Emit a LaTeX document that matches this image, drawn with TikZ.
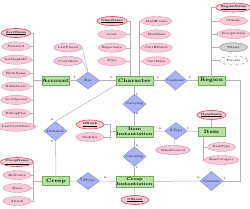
\documentclass[tikz,border=0pt]{standalone}
\usepackage{tikz}
\usetikzlibrary{positioning, shapes.geometric}

\definecolor{entfill}{HTML}{B6E2A1}
\definecolor{entline}{HTML}{6FAE57}
\definecolor{relfill}{HTML}{A9B2F2}
\definecolor{relline}{HTML}{7C87D6}
\definecolor{attfill}{HTML}{F8CAD7}
\definecolor{attline}{HTML}{E593A9}
\definecolor{keyline}{HTML}{E0404E}
\definecolor{ratline}{HTML}{C27AD6}
\definecolor{linec}{HTML}{B4B4B4}

\begin{document}
\begin{tikzpicture}[x=1pt, y=-1pt,
    entity/.style={rectangle, draw=entline, fill=entfill, minimum width=27pt, minimum height=9pt, inner sep=0pt, font=\fontsize{5}{5}\selectfont\bfseries},
    bigentity/.style={entity, minimum width=37pt},
    twoline/.style={entity, minimum width=37pt, minimum height=11.5pt, align=center, font=\fontsize{4.2}{4.3}\selectfont\bfseries},
    rel/.style={diamond, draw=relline, fill=relfill, minimum width=23pt, minimum height=17pt, inner sep=0pt, font=\fontsize{3.2}{3.2}\selectfont},
    attr/.style={ellipse, draw=attline, fill=attfill, minimum width=28pt, minimum height=9pt, inner sep=0pt, font=\fontsize{3}{3}\selectfont},
    keyattr/.style={attr, draw=keyline, line width=0.55pt, font=\fontsize{3}{3}\selectfont\bfseries},
    relattr/.style={attr, draw=ratline},
    multi/.style={attr, draw=gray, fill=gray!35},
    derived/.style={attr, draw=gray, fill=white, dashed},
    link/.style={draw=linec, line width=0.5pt},
    card/.style={inner sep=0pt, font=\fontsize{3.2}{3.2}\selectfont}
  ]
  \useasboundingbox (0,0) rectangle (250,209);

  % entities
  \node[entity] (acc) at (55.5,80.5) {Account};
  \node[bigentity] (chr) at (134.5,80.5) {Character};
  \node[entity] (reg) at (211.5,80.5) {Region};
  \node[twoline] (iinst) at (134.5,131.5) {Item\\Instantiation};
  \node[entity] (item) at (211.5,131.5) {Item};
  \node[entity] (crp) at (56,181) {Creep};
  \node[twoline] (cinst) at (134.5,181.5) {Creep\\Instantiation};

  % relationships
  \node[rel] (has) at (88,80.5) {Has};
  \node[rel] (cont) at (175.5,80.5) {Contains};
  \node[rel] (carry) at (134.5,104) {Carrying};
  \node[rel] (def) at (55.5,131) {Defeated};
  \node[rel] (iit) at (176,131) {IIType};
  \node[rel] (carry2) at (134.5,156.5) {Carrying};
  \node[rel] (cit) at (88,181) {CIType};
  \node[rel] (cont2) at (211.5,181) {Contains};

  % attributes
  \node[keyattr] (acc0) at (16,33) {\underline{AcctName}};
  \foreach \t [count=\i] in {Password, LastLogInIP, BirthName, BillAddress, AcctOpened, BillingPlan, LastCreditDate}
    \node[attr] (acc\i) at (16,33+13.38*\i) {\t};

  \node[keyattr] (chl0) at (112,21) {\underline{CharName}};
  \foreach \t [count=\i] in {Level, Experience, Type}
    \node[attr] (chl\i) at (112,21+13.4*\i) {\t};
  \foreach \t [count=\i from 0] in {MaxHPoints, MaxMana, CurrHPoints, CurrMana}
    \node[attr] (chr\i) at (156.5,21+13.4*\i) {\t};

  \node[relattr] (lp) at (68,47.5) {LastPlayed};
  \node[relattr] (cd) at (68,61) {CreateDate};

  \node[keyattr] (reg0) at (233.5,7.5) {\underline{RegionName}};
  \node[attr] (reg1) at (233.5,20.8) {Climate};
  \node[attr] (reg2) at (233.5,34) {Precipitation};
  \node[multi] (reg3) at (233.5,47.3) {Tileset};
  \node[derived] (reg4) at (233.5,60.5) {Parents};

  \node[keyattr] (itn) at (211.5,115) {\underline{ItemName}};
  \node[attr] (ity) at (221.5,147) {ItemType};
  \node[attr] (ica) at (221.5,160) {ItemCategory};
  \node[relattr] (wc) at (173,150) {WhenCreated};

  \node[keyattr] (iirk) at (90,124.5) {\underline{IIRank}};
  \node[attr] (iimd) at (90,137) {Modifier};
  \node[keyattr] (cirk) at (135,200) {\underline{CIRank}};

  \node[keyattr] (crp0) at (17,162) {\underline{CreepName}};
  \foreach \t [count=\i] in {HitPoints, Mana, Attack}
    \node[attr] (crp\i) at (17,162+13*\i) {\t};

  % attribute links
  \coordinate (accbus) at (33,80.5);
  \draw[link] (acc) -- (accbus);
  \foreach \i in {0,...,7}
    \draw[link] (accbus) |- (acc\i);
  \coordinate (chlbus) at (130,76);
  \coordinate (chrbus) at (139,76);
  \foreach \i in {0,...,3}{
    \draw[link] (chlbus) |- (chl\i);
    \draw[link] (chrbus) |- (chr\i);
  }
  \draw[link] (lp.east) -- (has.north);
  \draw[link] (cd.east) -- (has.north);
  \coordinate (regbus) at (211.5,76);
  \foreach \i in {0,...,4}
    \draw[link] (regbus) |- (reg\i);
  \draw[link] (itn) -- (item);
  \coordinate (itembus) at (203,136);
  \draw[link] (itembus) |- (ity);
  \draw[link] (itembus) |- (ica);
  \draw[link] (iit) -- (wc);
  \coordinate (iibus) at (110,131.5);
  \draw[link] (iinst) -- (iibus);
  \draw[link] (iibus) |- (iirk);
  \draw[link] (iibus) |- (iimd);
  \draw[link] (cinst) -- (cirk);
  \coordinate (crpbus) at (33,181);
  \draw[link] (crp) -- (crpbus);
  \foreach \i in {0,...,3}
    \draw[link] (crpbus) |- (crp\i);

  % relationship links
  \draw[link] (acc) -- (has) -- (chr) -- (cont) -- (reg);
  \draw[link] (chr) -- (carry) -- (iinst) -- (carry2) -- (cinst);
  \draw[link] (iinst) -- (iit) -- (item);
  \draw[link] (crp) -- (cit) -- (cinst) -- (cont2);
  \draw[link] (chr.south west) -- (def.north);
  \draw[link] (def) -- (crp);
  \coordinate (regturn) at (240.5,80.5);
  \draw[link] (reg) -- (regturn) |- (cont2);

  % cardinalities
  \node[card] (c1) at (75,77.5) {1};
  \node[card] (c2) at (111.5,77.5) {n};
  \node[card] (c3) at (158,77.5) {n};
  \node[card] (c4) at (190,77.5) {1};
  \node[card] (c5) at (137,94) {1};
  \node[card] (c6) at (137,114) {n};
  \node[card] (c7) at (137,145.5) {n};
  \node[card] (c8) at (137,167) {1};
  \node[card] (c9) at (160,128.5) {n};
  \node[card] (c10) at (188,128) {1};
  \node[card] (c11) at (52,120) {n};
  \node[card] (c12) at (52,142) {n};
  \node[card] (c13) at (80.5,178) {1};
  \node[card] (c14) at (105,178) {n};
  \node[card] (c15) at (198.5,178) {n};
  \node[card] (c16) at (225,178) {1};
\end{tikzpicture}
\end{document}
